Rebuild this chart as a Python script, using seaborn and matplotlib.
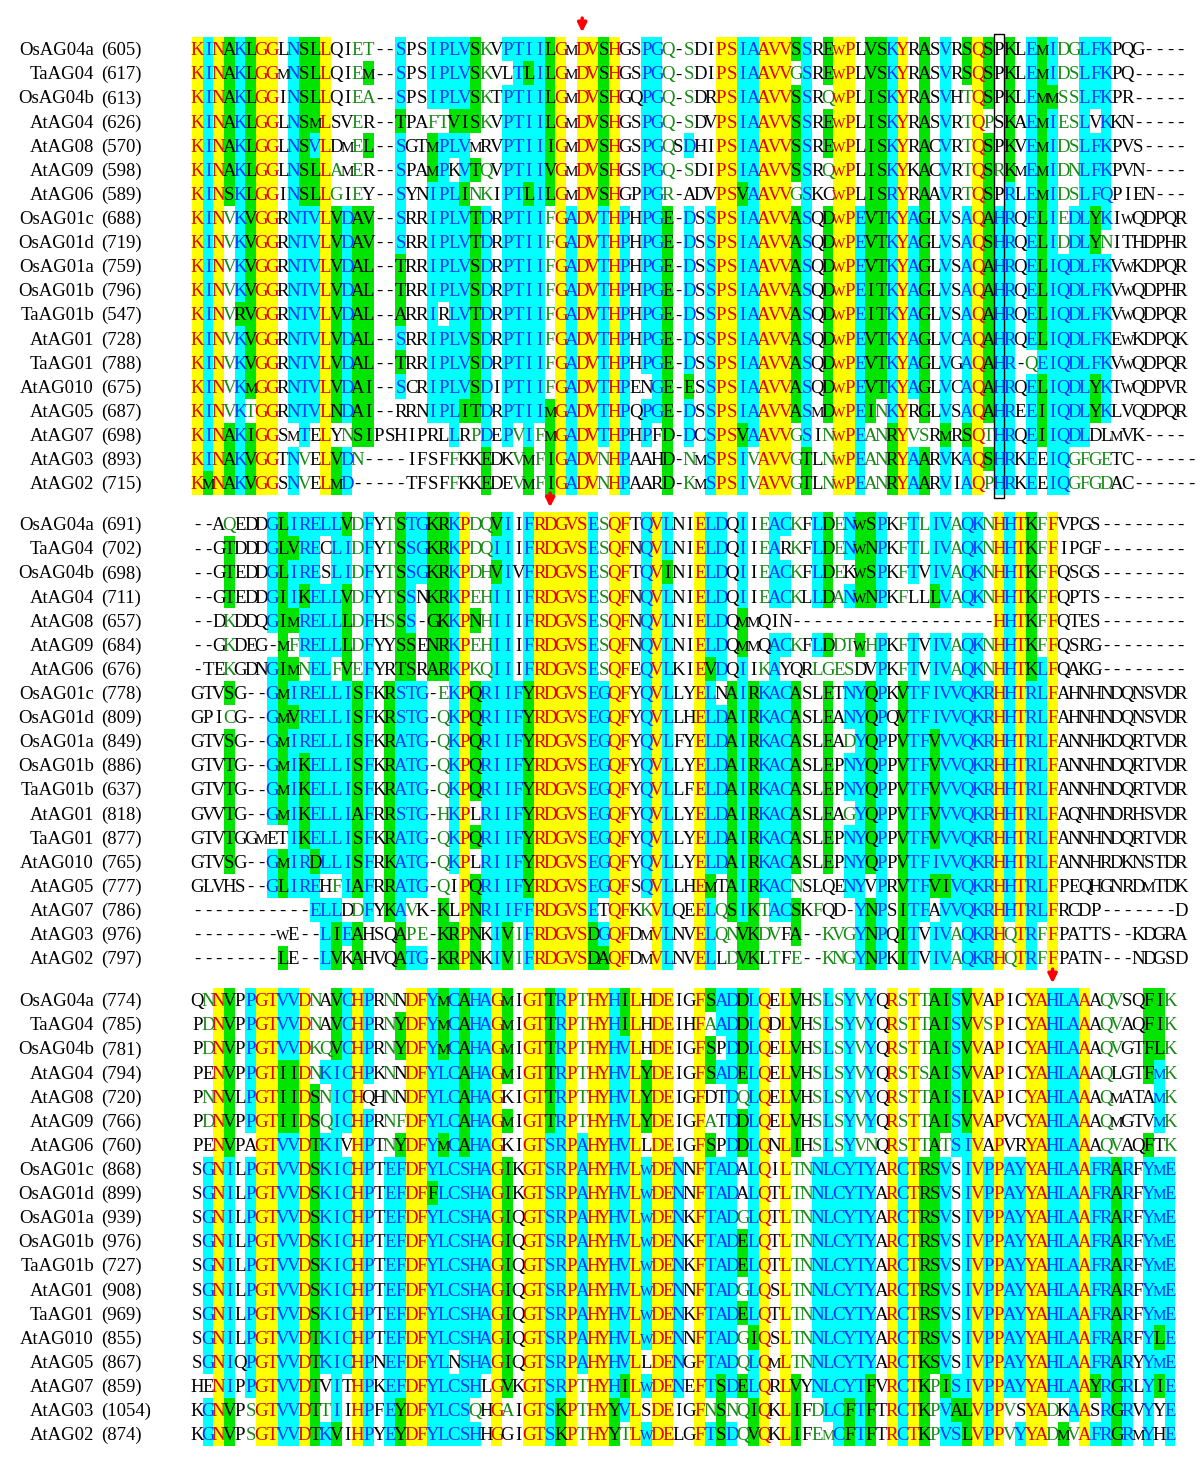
import numpy as np
import seaborn as sns
import matplotlib.pyplot as plt
from matplotlib.colors import ListedColormap
from matplotlib.patches import Rectangle


# sequence names and start positions of each block
names = ['OsAG04a', 'TaAG04', 'OsAG04b', 'AtAG04', 'AtAG08', 'AtAG09', 'AtAG06',
         'OsAG01c', 'OsAG01d', 'OsAG01a', 'OsAG01b', 'TaAG01b', 'AtAG01', 'TaAG01',
         'AtAG010', 'AtAG05', 'AtAG07', 'AtAG03', 'AtAG02']
start_1 = [605, 617, 613, 626, 570, 598, 589, 688, 719, 759, 796, 547, 728, 788, 675, 687, 698, 893, 715]
start_2 = [691, 702, 698, 711, 657, 684, 676, 778, 809, 849, 886, 637, 818, 877, 765, 777, 786, 976, 797]
start_3 = [774, 785, 781, 794, 720, 766, 760, 868, 899, 939, 976, 727, 908, 969, 855, 867, 859, 1054, 874]

seq_1 = [
    "KINAKLGGLNSLLQIET--SPSIPLVSKVPTIILGMDVSHGSPGQ-SDIPSIAAVVSSREWPLVSKYRASVRSQSPKLEMIDGLFKPQG----",
    "KINAKLGGMNSLLQIEM--SPSIPLVSKVLTLILGMDVSHGSPGQ-SDIPSIAAVVGSREWPLVSKYRASVRSQSPKLEMIDSLFKPQ-----",
    "KINAKLGGINSLLQIEA--SPSIPLVSKTPTIILGMDVSHGQPGQ-SDRPSIAAVVSSRQWPLISKYRASVHTQSPKLEMMSSLFKPR-----",
    "KINAKLGGLNSMLSVER--TPAFTVISKVPTIILGMDVSHGSPGQ-SDVPSIAAVVSSREWPLISKYRASVRTQPSKAEMIESLVKKN-----",
    "KINAKLGGLNSVLDMEL--SGTMPLVMRVPTIIIGMDVSHGSPGQSDHIPSIAAVVSSREWPLISKYRACVRTQSPKVEMIDSLFKPVS----",
    "KINAKLGGLNSLLAMER--SPAMPKVTQVPTIIVGMDVSHGSPGQ-SDIPSIAAVVSSRQWPLISKYKACVRTQSRKMEMIDNLFKPVN----",
    "KINSKLGGINSLLGIEY--SYNIPLINKIPTLILGMDVSHGPPGR-ADVPSVAAVVGSKCWPLISRYRAAVRTQSPRLEMIDSLFQPIEN---",
    "KINVKVGGRNTVLVDAV--SRRIPLVTDRPTIIFGADVTHPHPGE-DSSPSIAAVVASQDWPEVTKYAGLVSAQAHRQELIEDLYKIWQDPQR",
    "KINVKVGGRNTVLVDAV--SRRIPLVTDRPTIIFGADVTHPHPGE-DSSPSIAAVVASQDWPEVTKYAGLVSAQSHRQELIDDLYNITHDPHR",
    "KINVKVGGRNTVLVDAL--TRRIPLVSDRPTIIFGADVTHPHPGE-DSSPSIAAVVASQDWPEVTKYAGLVSAQAHRQELIQDLFKVWKDPQR",
    "KINVKVGGRNTVLVDAL--TRRIPLVSDRPTIIFGADVTHPHPGE-DSSPSIAAVVASQDWPEITKYAGLVSAQAHRQELIQDLFKVWQDPHR",
    "KINVRVGGRNTVLVDAL--ARRIRLVTDRPTIIFGADVTHPHPGE-DSSPSIAAVVASQDWPEITKYAGLVSAQAHRQELIQDLFKVWQDPQR",
    "KINVKVGGRNTVLVDAL--SRRIPLVSDRPTIIFGADVTHPHPGE-DSSPSIAAVVASQDWPEVTKYAGLVCAQAHRQELIQDLFKEWKDPQK",
    "KINVKVGGRNTVLVDAL--TRRIPLVSDRPTIIFGADVTHPHPGE-DSSPSIAAVVASQDWPEVTKYAGLVGAQAHR-QEIQDLFKVWQDPQR",
    "KINVKMGGRNTVLVDAI--SCRIPLVSDIPTIIFGADVTHPENGE-ESSPSIAAVVASQDWPEVTKYAGLVCAQAHRQELIQDLYKTWQDPVR",
    "KINVKTGGRNTVLNDAI--RRNIPLITDRPTIIMGADVTHPQPGE-DSSPSIAAVVASMDWPEINKYRGLVSAQAHREEIIQDLYKLVQDPQR",
    "KINAKIGGSMTELYNSIPSHIPRLLRPDEPVIFMGADVTHPHPFD-DCSPSVAAVVGSINWPEANRYVSRMRSQTHRQEIIQDLDLMVK----",
    "KINAKVGGTNVELVDN----IFSFFKKEDKVMFIGADVNHPAAHD-NMSPSIVAVVGTLNWPEANRYAARVKAQSHRKEEIQGFGETC------",
    "KMNAKVGGSNVELMD-----TFSFFKKEDEVMFIGADVNHPAARD-KMSPSIVAVVGTLNWPEANRYAARVIAQPHRKEEIQGFGDAC------",
]
seq_2 = [
    "--AQEDDGLIRELLVDFYTSTGKRKPDQVIIFRDGVSESQFTQVLNIELDQIIEACKFLDENWSPKFTLIVAQKNHHTKFFVPGS--------",
    "--GTDDDGLVRECLIDFYTSSGKRKPDQIIIFRDGVSESQFNQVLNIELDQIIEARKFLDENWNPKFTLIVAQKNHHTKFFIPGF--------",
    "--GTEDDGLIRESLIDFYTSSGKRKPDHVIVFRDGVSESQFTQVINIELDQIIEACKFLDEKWSPKFTVIVAQKNHHTKFFQSGS--------",
    "--GTEDDGIIKELLVDFYTSSNKRKPEHIIIFRDGVSESQFNQVLNIELDQIIEACKLLDANWNPKFLLLVAQKNHHTKFFQPTS--------",
    "--DKDDQGIMRELLLDFHSSS-GKKPNHIIIFRDGVSESQFNQVLNIELDQMMQIN-------------------HHTKFFQTES--------",
    "--GKDEG-MFRELLLDFYYSSENRKPEHIIIFRDGVSESQFNQVLNIELDQMMQACKFLDDTWHPKFTVIVAQKNHHTKFFQSRG--------",
    "-TEKGDNGIMNELFVEFYRTSRARKPKQIIIFRDGVSESQFEQVLKIEVDQIIKAYQRLGESDVPKFTVIVAQKNHHTKLFQAKG--------",
    "GTVSG--GMIRELLISFKRSTG-EKPQRIIFYRDGVSEGQFYQVLLYELNAIRKACASLETNYQPKVTFIVVQKRHHTRLFAHNHNDQNSVDR",
    "GPICG--GMVRELLISFKRSTG-QKPQRIIFYRDGVSEGQFYQVLLHELDAIRKACASLEANYQPQVTFIVVQKRHHTRLFAHNHNDQNSVDR",
    "GTVSG--GMIRELLISFKRATG-QKPQRIIFYRDGVSEGQFYQVLFYELDAIRKACASLEADYQPPVTFVVVQKRHHTRLFANNHKDQRTVDR",
    "GTVTG--GMIKELLISFKRATG-QKPQRIIFYRDGVSEGQFYQVLLYELDAIRKACASLEPNYQPPVTFVVVQKRHHTRLFANNHNDQRTVDR",
    "GTVTG--GMIKELLISFKRATG-QKPQRIIFYRDGVSEGQFYQVLLFELDAIRKACASLEPNYQPPVTFVVVQKRHHTRLFANNHNDQRTVDR",
    "GVVTG--GMIKELLIAFRRSTG-HKPLRIIFYRDGVSEGQFYQVLLYELDAIRKACASLEAGYQPPVTFVVVQKRHHTRLFAQNHNDRHSVDR",
    "GTVTGGMETIKELLISFKRATG-QKPQRIIFYRDGVSEGQFYQVLLYELDAIRKACASLEPNYQPPVTFVVVQKRHHTRLFANNHNDQRTVDR",
    "GTVSG--GMIRDLLISFRKATG-QKPLRIIFYRDGVSEGQFYQVLLYELDAIRKACASLEPNYQPPVTFIVVQKRHHTRLFANNHRDKNSTDR",
    "GLVHS--GLIREHFIAFRRATG-QIPQRIIFYRDGVSEGQFSQVLLHEMTAIRKACNSLQENYVPRVTFVIVQKRHHTRLFPEQHGNRDMTDK",
    "-----------ELLDDFYKAVK-KLPNRIIFFRDGVSETQFKKVLQEELQSIKTACSKFQD-YNPSITFAVVQKRHHTRLFRCDP-------D",
    "--------WE--LIEAHSQAPE-KRPNKIVIFRDGVSDGQFDMVLNVELQNVKDVFA--KVGYNPQITVIVAQKRHQTRFFPATTS--KDGRA",
    "--------LE--LVKAHVQATG-KRPNKIVIFRDGVSDAQFDMVLNVELLDVKLTFE--KNGYNPKITVIVAQKRHQTRFFPATN---NDGSD",
]
seq_3 = [
    "QNNVPPGTVVDNAVCHPRNNDFYMCAHAGMIGTTRPTHYHILHDEIGFSADDLQELVHSLSYVYQRSTTAISVVAPICYAHLAAAQVSQFIK",
    "PDNVPPGTVVDNAVCHPRNYDFYMCAHAGMIGTTRPTHYHILHDEIHFAADDLQDLVHSLSYVYQRSTTAISVVSPICYAHLAAAQVAQFIK",
    "PDNVPPGTVVDKQVCHPRNYDFYMCAHAGMIGTTRPTHYHVLHDEIGFSPDDLQELVHSLSYVYQRSTTAISVVAPICYAHLAAAQVGTFLK",
    "PENVPPGTIIDNKICHPKNNDFYLCAHAGMIGTTRPTHYHVLYDEIGFSADELQELVHSLSYVYQRSTSAISVVAPICYAHLAAAQLGTFMK",
    "PNNVLPGTIIDSNICHQHNNDFYLCAHAGKIGTTRPTHYHVLYDEIGFDTDQLQELVHSLSYVYQRSTTAISLVAPICYAHLAAAQMATAMK",
    "PDNVPPGTIIDSQICHPRNFDFYLCAHAGMIGTTRPTHYHVLYDEIGFATDDLQELVHSLSYVYQRSTTAISVVAPVCYAHLAAAQMGTVMK",
    "PENVPAGTVVDTKIVHPTNYDFYMCAHAGKIGTSRPAHYHVLLDEIGFSPDDLQNLIHSLSYVNQRSTTATSIVAPVRYAHLAAAQVAQFTK",
    "SGNILPGTVVDSKICHPTEFDFYLCSHAGIKGTSRPAHYHVLWDENNFTADALQILTNNLCYTYARCTRSVSIVPPAYYAHLAAFRARFYME",
    "SGNILPGTVVDSKICHPTEFDFFLCSHAGIKGTSRPAHYHVLWDENNFTADALQTLTNNLCYTYARCTRSVSIVPPAYYAHLAAFRARFYME",
    "SGNILPGTVVDSKICHPTEFDFYLCSHAGIQGTSRPAHYHVLWDENKFTADGLQTLTNNLCYTYARCTRSVSIVPPAYYAHLAAFRARFYME",
    "SGNILPGTVVDSKICHPTEFDFYLCSHAGIQGTSRPAHYHVLWDENKFTADELQTLTNNLCYTYARCTRSVSIVPPAYYAHLAAFRARFYME",
    "SGNILPGTVVDSKICHPTEFDFYLCSHAGIQGTSRPAHYHVLWDENKFTADELQTLTNNLCYTYARCTRSVSIVPPAYYAHLAAFRARFYME",
    "SGNILPGTVVDSKICHPTEFDFYLCSHAGIQGTSRPAHYHVLWDENNFTADGLQSLTNNLCYTYARCTRSVSIVPPAYYAHLAAFRARFYME",
    "SGNILPGTVVDSKICHPTEFDFYLCSHAGIQGTSRPAHYHVLWDENKFTADELQTLTNNLCYTYARCTRSVSIVPPAYYAHLAAFRARFYME",
    "SGNILPGTVVDTKICHPTEFDFYLCSHAGIQGTSRPAHYHVLWDENNFTADGIQSLTNNLCYTYARCTRSVSIVPPAYYAHLAAFRARFYLE",
    "SGNIQPGTVVDTKICHPNEFDFYLNSHAGIQGTSRPAHYHVLLDENGFTADQLQMLTNNLCYTYARCTKSVSIVPPAYYAHLAAFRARYYME",
    "HENIPPGTVVDTVITHPKEFDFYLCSHLGVKGTSRPTHYHILWDENEFTSDELQRLVYNLCYTFVRCTKPISIVPPAYYAHLAAYRGRLYIE",
    "KGNVPSGTVVDTTIIHPFEYDFYLCSQHGAIGTSKPTHYYVLSDEIGFNSNQIQKLIFDLCFTFTRCTKPVALVPPVSYADKAASRGRVYYE",
    "KGNVPSGTVVDTKVIHPYEYDFYLCSHHGGIGTSKPTHYYTLWDELGFTSDQVQKLIFEMCFTFTRCTKPVSLVPPVYYADMVAFRGRMYHE",
]

# shading class of every residue:
# Y identical (yellow), C conserved (cyan), G similar (green), g weakly similar, W none
shade_1 = [
    "YCYGCGYYWC" "GGYWWggWWC" "WWCCCCGgWC" "CCCGYWYYGY" "WWCCgWgWWY" "YCCYYYGCWG" "YYWGGCYWGW" "CWGYGWGWCG" "CggCCCWWWW" "WWW",
    "YCYGCGYYWC" "GGYWWgGWWC" "WWCCCCGgWW" "CGCGYWYYGY" "WWCCgWgWWY" "YCCYYYgCWG" "YYWGGCYWGW" "CWGYGWGWCG" "CggCCCWWWW" "WWW",
    "YCYGCGYYWC" "GGYWWggWWC" "WWCCCCGgWC" "CCCGYWYYGY" "WWCCgWgWWY" "YCCYYYGCWg" "YYWGGCYWGW" "CWgYGWGWCG" "GggCCCWWWW" "WWW",
    "YCYGCGYYWC" "GGYWWgWWWG" "WWggGGGgWC" "CCCGYWYYGY" "WWCCgWgWWY" "YCCYYYGCWG" "YYWGGCYWGW" "CWgYgWGWCG" "CggCWCWWWW" "WWW",
    "YCYGCGYYWC" "GCYWWgGWWC" "WWGCCCWWWC" "CCCGYWYYGY" "WWCCgWCWWY" "YCCYYYGCWG" "YYWGGCYWGW" "CWgYGWGWCG" "CggCCCWWWW" "WWW",
    "YCYGCGYYWC" "GGYgWgWWWC" "WWGCWCGgWC" "CCCGYWYYGY" "WWCCgWgWWY" "YCCYYYGCWg" "YYWGGCYWGW" "CWgYGgGWCG" "CggCCCWWWW" "WWW",
    "YCYGCGYYWC" "GGYgWgWWWC" "WWCCCGggWC" "CGCGYWYYGY" "WWCCgWWWWY" "YGCYYYgCWW" "YYWGGCYWGW" "CWgYGWCWCG" "CggCCCWWWW" "WWW",
    "YCYgCGYYWC" "CCYGCGGWWC" "WWCCCCGCWC" "CCCgYCYYCY" "CWCCGWCWCY" "YCCYYYGCWG" "YYCGGCYCGW" "CWCYGCCWCG" "CgCCGCWWWW" "WWW",
    "YCYgCGYYWC" "CCYGCGGWWC" "WWCCCCGCWC" "CCCgYCYYCY" "CWCCGWCWCY" "YCCYYYGCWG" "YYCGGCYCGW" "CWCYGCCWCG" "CgCCGgWWWW" "WWW",
    "YCYgCGYYWC" "CCYGCGGWWG" "WWCCCCGCWC" "CCCgYCYYCY" "CWCCGWCWCY" "YCCYYYGCWG" "YYCGGCYCGW" "CWCYGCCWCG" "CCCCCCWWWW" "WWW",
    "YCYgCGYYWC" "CCYGCGGWWG" "WWCCCCGCWC" "CCCgYCYYCY" "CWCCGWCWCY" "YCCYYYGCWG" "YYCGGCYCGW" "CWCYGCCWCG" "CCCCCCWWWW" "WWW",
    "YCYgGGYYWC" "CCYGCGGWWG" "WWCWCCGCWC" "CCCgYCYYCY" "CWCCGWCWCY" "YCCYYYGCWG" "YYCGGCYCGW" "CWCYGCCWCG" "CCCCCCWWWW" "WWW",
    "YCYgCGYYWC" "CCYGCGGWWC" "WWCCCCGCWC" "CCCgYCYYCY" "CWCCGWCWCY" "YCCYYYGCWG" "YYCGGCYCGW" "CWCYGCCWCG" "CCCCCCWWWW" "WWW",
    "YCYgCGYYWC" "CCYGCGGWWG" "WWCCCCGCWC" "CCCgYCYYCY" "CWCCGWCWCY" "YCCYYYGCWG" "YYCGGCYCGW" "CWCYGCCWgC" "CCCCCCWWWW" "WWW",
    "YCYgCGYYWC" "CCYGCGGWWC" "WWCCCCGCWC" "CCCgYCYYCY" "CWWCGWGWCY" "YCCYYYGCWG" "YYCGGCYCGW" "CWCYGCCWCG" "CCCCGCWWWW" "WWW",
    "YCYgCgYYWC" "CCYGCGGWWW" "WWCCCGGCWC" "CCCGYCYYCY" "CWCCGWCWCY" "YCCYYYGCWG" "YYCGgCYWGW" "CWCYGCCWCG" "CCCCGCWWWW" "WWW",
    "YCYGCGYYWW" "CWYWgGGWWW" "WWWWCWgCWC" "gCgGYCYYCY" "CWCWGWCWCY" "YGCYYYgCWg" "YYCggGYggW" "GWGYgCCWCG" "CCCCWWWWWW" "WWW",
    "YCYGCGYYWC" "gWYGCgWWWW" "WWWWgWWGWW" "gGgGYCYYgY" "CWWWGWgWCY" "YCgYYYgGWg" "YYCggGYCGW" "CWCYGCCWCW" "CCggggWWWW" "WWW",
    "YGYGCGYYWC" "gWYGCWWWWW" "WWWWgWWGWW" "gGgGYCYYgY" "CWWWGWgWCY" "YCgYYYgGWg" "YYCggGYCGW" "CWCYgCCWCW" "CCggggWWWW" "WWW",
]
shade_2 = [
    "WWWgWWWCGC" "CCCCGgCWgG" "CCGGCYggGC" "WCYYYYYCgY" "YWCYCWWYCC" "WCWgCCgWCG" "gCGGCWgCgC" "CgCCgYCYGg" "YWWWWWWWWW" "WWW",
    "WWWGWWWCGG" "CCWCCgCWgG" "CCGGCYggCC" "WCYYYYYCgY" "YWCYCWWYCC" "WCWgCWgWCG" "gCGGCWgCgC" "CgCCgYCYGg" "YWWWWWWWWW" "WWW",
    "WWWGWWWCGC" "CCWCCgCWgG" "CCGGCYggGC" "WCYYYYYCgY" "YWCYGWWYCC" "WCWgCCgWCG" "gWGGCWgCWC" "CgCCgYCYGg" "YWWWWWWWWW" "WWW",
    "WWWGWWWCGC" "GCCCGgCWgG" "CWGGCYggCC" "WCYYYYYCgY" "YWCYCWWYCC" "WCWgCCgWCG" "gCGGCWgWWG" "CgCCgYCYGg" "YWWWWWWWWW" "WWW",
    "WWWgWWWCGG" "CCCCGgCWgG" "CWGGCYGgCC" "WCYYYYYCgY" "YWCYCWWYCC" "WGWWWWWWWW" "WWWWWWWWWW" "WWWWWYCYGg" "YWWWWWWWWW" "WWW",
    "WWWgWWWWGg" "CCCCGgCWWG" "GWGGCYggCC" "WCYYYYYCgY" "YWCYCWWYCC" "WGWWCCgWCG" "ggGgCWgCWC" "CgCCgYCYGg" "YWWWWWWWWW" "WWW",
    "WWWgWWWCGG" "gCCgGgCWWG" "GWGGCYggCC" "WCYYYYYCgY" "YWCYCWWYGC" "WCWgCWWWgg" "ggWWCWgCWC" "CgCCgYCYGC" "YWWWWWWWWW" "WWW",
    "WWWGWWWCGC" "CCCCCGCWGC" "CCWgCYGCCC" "CGYYYYYCCY" "YWCYCWWYCW" "GCGCCCGWWG" "WCCGCWGCCC" "CCCCCYCYCC" "YWWWWWWWWW" "WWW",
    "WWWgWWWCGG" "CCCCCGCWGC" "CCWgCYGCCC" "CGYYYYYCCY" "YWCYCWWYCC" "GCGCCCGWWG" "WCCGCWGCCC" "CCCCCYCYCC" "YWWWWWWWWW" "WWW",
    "WWWGWWWCGC" "CCCCCGCWGC" "CCWgCYGCCC" "CGYYYYYCCY" "YWCYCWWYCC" "GCGCCCGWWG" "WgCGCWGCCG" "CCCCCYCYCC" "YWWWWWWWWW" "WWW",
    "WWWGWWWCGC" "GCCCCGCWGC" "CCWgCYGCCC" "CGYYYYYCCY" "YWCYCWWYCC" "GCGCCCGWWG" "WCCGCWGCCG" "CCCCCYCYCC" "YWWWWWWWWW" "WWW",
    "WWWGWWWCGC" "GCCCCGCWGC" "CCWgCYGCCC" "CGYYYYYCCY" "YWCYCWWYCC" "GCGCCCGWWG" "WCCGCWGCCG" "CCCCCYCYCC" "YWWWWWWWWW" "WWW",
    "WWWGWWWCGC" "GCCCCGCWGC" "CCWgCYWCCC" "CGYYYYYCCY" "YWCYCWWYCC" "GCGCCCGWWG" "WgCGCWGCCG" "CCCCCYCYCC" "YWWWWWWWWW" "WWW",
    "WWWGWWWWWC" "GCCCCGCWGC" "CCWgCYGCCC" "CGYYYYYCCY" "YWCYCWWYCC" "GCGCCCGWWG" "WCCGCWGCCG" "CCCCCYCYCC" "YWWWWWWWWW" "WWW",
    "WWWGWWWCGC" "CGCCCGCWGC" "CCWgCYWCCC" "CGYYYYYCCY" "YWCYCWWYCC" "GCGCCCGWWG" "WCCGCWGCCC" "CCCCCYCYCC" "YWWWWWWWWW" "WWW",
    "WWWWWWWCGC" "CCWgCGCWGC" "CCWgWYGCCC" "CGYYYYYCCY" "YWCYCWWYGW" "GCGCCCgWWW" "WCCWCWGCCG" "GCCCCYCYCC" "YWWWWWWWWW" "WWW",
    "WWWWWWWWWW" "WCCCWgCWGC" "gWWGWYGCCC" "CCYYYYYCWY" "YWgYCWWYCg" "GCGgCCGWgW" "WWCGCWGCCW" "CCCCCYCYCC" "YWWWWWWWWW" "WWW",
    "WWWWWWWWWW" "WWCGCGWWWG" "ggWGGYGWCG" "gCYYYYYGCY" "YWWYCWWYCg" "gGGggWGWWg" "ggCGCWGCWC" "CgCCCYgYCg" "YWWWWWWWWW" "WWW",
    "WWWWWWWWGW" "WWCGWGWWWG" "CCWGGYGWCG" "gCYYYYYGGY" "YWWYCWWYCW" "gGGWgWgWWg" "ggCGCWGCWC" "CgCCCYgYCg" "YWWWWWWWWW" "WWW",
]
shade_3 = [
    "WgYGWCYYCC" "YgWGCYCWgW" "YYCGCGCCYG" "WYYGCYgYYC" "GYWYYWWYGC" "CGCYWYGWgC" "gCgCWYgYgG" "GCGYWYWWYY" "CCCYWggWWG" "Gg",
    "WgYGWCYYCC" "YgWGCYCWgG" "YYCGCGCCYG" "WYYGCYgYYC" "GYWYYWWYgC" "CGCYWYGWgC" "gCgCWYgYgG" "GCGYgYWWYY" "CCCYWggWWG" "Gg",
    "WgYGWCYYCC" "YggGCYCWgG" "YYCGCGCCYG" "WYYGCYgYYC" "CYWYYWWYGW" "CGCYWYGWgC" "gCgCWYgYgG" "GCGYWYWWYY" "CCCYWggWWG" "Gg",
    "WWYGWCYYGG" "YgCCCYCWgW" "YYCCCGCCYG" "WYYGCYgYYC" "CYGYYWWYGC" "CGCYWYGWgC" "gCgCWYgYgG" "GCGYWYWWYY" "CCCYWgWWWG" "Cg",
    "WgYGWCYYGG" "YGgCCYWWgW" "YYCCCGCCYW" "WYYGCYgYYC" "CYGYYWWYWW" "CgCYWYGWgC" "gCgCWYgYgG" "GCGYWYWWYY" "CCCYWgWWWW" "Cg",
    "WgYGWCYYGG" "YGgCCYCWgg" "YYCCCGCCYG" "WYYGCYgYYC" "CYGYYWWYgW" "CGCYWYGWgC" "gCgCWYgYgG" "GCGYWYWWYY" "CCCYWgWWWW" "Cg",
    "WWYGWWYYCC" "YGCCWYCWgG" "YYCGCGCCYW" "WYYCCYCYYC" "CYWYYWWYGW" "CGCYWYGWgC" "gCggWYgYgG" "gCCYWYWWYY" "CCCYWggWWG" "Wg",
    "WCYCWCYYCC" "YGCCCYCWCC" "YYCCCCCCYG" "WYYCCYCYYC" "CYCYYCWYCC" "CWCYWYggCC" "CCCCWYCYGG" "CWCYCYCCYY" "CCCYCCGCWC" "CC",
    "WCYCWCYYCC" "YGCCCYCWCC" "YYGCCCCCYG" "WYYCCYCYYC" "CYCYYCWYCC" "CWCYWYggCC" "CCCCWYCYGG" "CWCYCYCCYY" "CCCYCCGCWC" "CC",
    "WCYCWCYYCC" "YGCCCYCWCC" "YYCCCCCCYG" "WYYCCYCYYC" "CYCYYCWYCC" "CgCYWYggCC" "CCCCWYCYGG" "CWCYCYCCYY" "CCCYCCGCWC" "CC",
    "WCYCWCYYCC" "YGCCCYCWCC" "YYCCCCCCYG" "WYYCCYCYYC" "CYCYYCWYCC" "CGCYWYggCC" "CCCCWYCYGG" "CWCYCYCCYY" "CCCYCCGCWC" "CC",
    "WCYCWCYYCC" "YGCCCYCWCC" "YYCCCCCCYG" "WYYCCYCYYC" "CYCYYCWYCC" "CGCYWYggCC" "CCCCWYCYGG" "CWCYCYCCYY" "CCCYCCGCWC" "CC",
    "WCYCWCYYCC" "YGCCCYCWCC" "YYCCCCCCYG" "WYYCCYCYYC" "CYCYYCWYCC" "CgCYWYggCC" "CCCCWYCYGG" "CWCYCYCCYY" "CCCYCCGCWC" "CC",
    "WCYCWCYYCC" "YGCCCYCWCC" "YYCCCCCCYG" "WYYCCYCYYC" "CYCYYCWYCC" "CGCYWYggCC" "CCCCWYCYGG" "CWCYCYCCYY" "CCCYCCGCWC" "CC",
    "WCYCWCYYCC" "YGCCCYCWCC" "YYCCCCCCYG" "WYYCCYCYYC" "CYCYYCWYCC" "CgGYWYggCC" "CCCCWYCYGG" "CWCYCYCCYY" "CCCYCCGCWC" "GC",
    "WCYCWCYYCC" "YGCCCYCWCC" "YYCCWCCCYG" "WYYCCYCYYC" "CYWYYCWYCC" "CgCYWYggCC" "CCCCWYCYGG" "CWCYCYCCYY" "CCCYCCGCWC" "CC",
    "WWYCWCYYCC" "YGWCWYCWCC" "YYCCCCCWYG" "WYYCCYgYYC" "GYCYYCWYCG" "CGCYWYGWCC" "CCCGWYCYGg" "GCCYCYCCYY" "CCCYGCGCWC" "GC",
    "WCYGWgYYCC" "YGgCWYCWCG" "YYCCCCgWYg" "WYYCGYgYYG" "CYWYYWWYgG" "ggGYWYGWgC" "CGCGWYCYGg" "CGGYCYgWYY" "gWCYWCGCWC" "WC",
    "WCYGWgYYCC" "YGCGWYCWCG" "YYCCCCCWYW" "WYYCGYgYYG" "gYCYYWWYCG" "CgGYWYGWgg" "CGCGWYCYGg" "CCGYCYgCYY" "gGgYCCGCWC" "WC",
]

# marked columns: red arrows above each block, box in block 1
arrow_cols = [36, 33, 80]
box_col = 75

BG_CODE = {'W': 0, 'g': 0, 'Y': 1, 'C': 2, 'G': 3}
TEXT_COLOR = {'W': '#000000', 'g': '#148a14', 'Y': '#e00000', 'C': '#0038ff', 'G': '#000000'}
bg_cmap = ListedColormap(['#ffffff', '#ffff00', '#00ffff', '#00e400'])

FIG_W, FIG_H = 1200, 1466
X0, CELL_W = 192, 10.69
FS = 13.5
# wide glyphs are set smaller so they are no wider than an 'A'
WIDE = {'M': 0.889, 'W': 0.944}

fig = plt.figure(figsize=(12, 14.66), dpi=100)
plt.rcParams['font.family'] = ['Liberation Serif', 'DejaVu Serif']

blocks = [
    (seq_1, shade_1, start_1, 37, 495),
    (seq_2, shade_2, start_2, 512, 970),
    (seq_3, shade_3, start_3, 988, 1446),
]

cap_off = 0.33 * FS * 100 / 72 / ((495 - 37) / 19)


def px(v):
    return (v - X0) / CELL_W


for b, (seqs, shades, starts, top, bot) in enumerate(blocks):
    ncol = len(seqs[0])
    ax = fig.add_axes([X0 / FIG_W, 1 - bot / FIG_H, ncol * CELL_W / FIG_W, (bot - top) / FIG_H])
    mat = np.array([[BG_CODE[c] for c in row[:ncol].ljust(ncol, 'W')] for row in shades])
    sns.heatmap(mat, ax=ax, cmap=bg_cmap, vmin=-0.5, vmax=3.5, cbar=False,
                xticklabels=False, yticklabels=False, linewidths=0)
    ax.axis('off')
    for i, (s, sh) in enumerate(zip(seqs, shades)):
        sh = sh.ljust(len(s), 'W')
        y = i + 0.5 + cap_off
        for j, ch in enumerate(s):
            fs = FS * 0.72 / WIDE[ch] if ch in WIDE else FS
            ax.text(j + 0.5, y, ch, ha='center', va='baseline',
                    color=TEXT_COLOR[sh[j]], fontsize=fs)
        ax.text(px(94), y, names[i], ha='right', va='baseline', fontsize=FS)
        ax.text(px(101), y, f'({starts[i]})', ha='left', va='baseline', fontsize=FS)
    c = arrow_cols[b]
    ax.annotate('', xy=(c + 0.5, -0.08), xytext=(c + 0.5, -0.9),
                arrowprops=dict(arrowstyle='-|>', color='#ff0000', lw=2.5, mutation_scale=13),
                annotation_clip=False)
    if b == 0:
        ax.add_patch(Rectangle((box_col, -0.12), 1, 19.25, fill=False, ec='black', lw=1, clip_on=False))

fig.savefig('out.png', dpi=100)
